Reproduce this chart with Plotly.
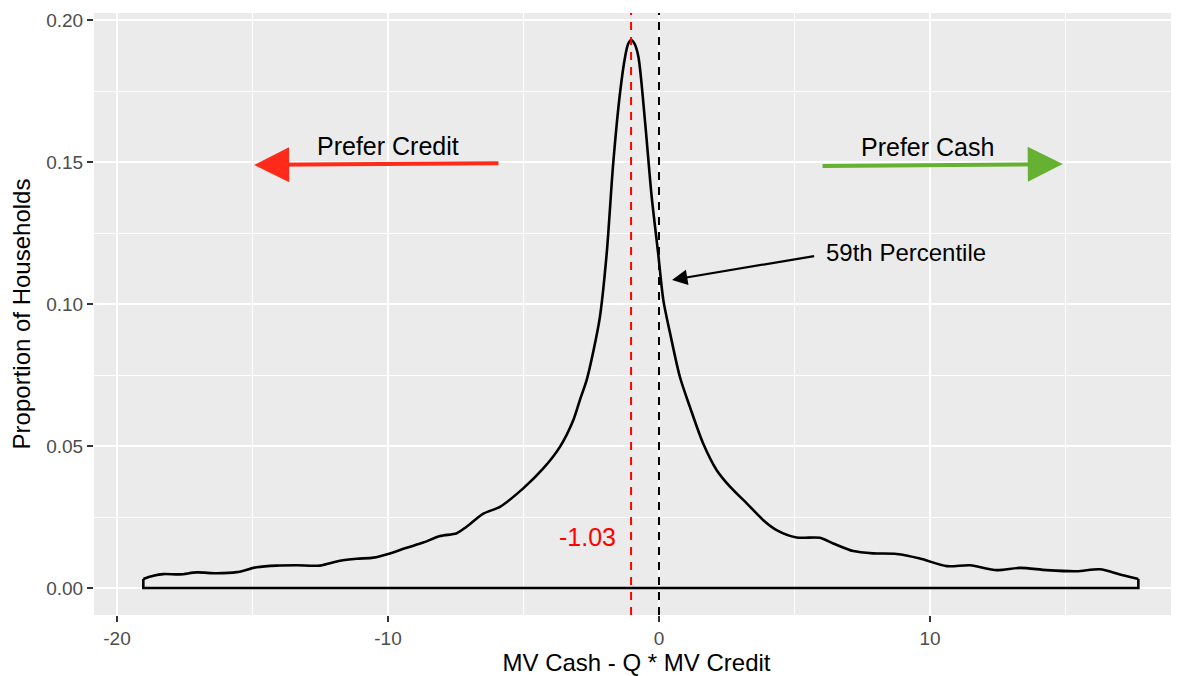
import plotly.graph_objects as go

# density of MV Cash - Q * MV Credit
density_x = [-19.03, -18.66, -18.29, -17.67, -17.06, -16.32, -15.58, -14.85, -14.11, -13.37,
             -12.51, -11.77, -11.15, -10.54, -9.93, -9.31, -8.70, -8.08, -7.46, -7.10,
             -6.48, -5.87, -5.01, -4.27, -3.65, -3.16, -2.92, -2.67, -2.43, -2.18,
             -1.93, -1.69, -1.44, -1.25, -1.14, -1.03, -0.90, -0.76, -0.52, -0.27,
             -0.03, 0.16, 0.41, 0.77, 1.14, 1.63, 2.13, 2.62, 3.24, 3.85,
             4.34, 5.08, 5.94, 6.43, 7.17, 7.91, 8.77, 9.63, 10.62, 11.48,
             12.46, 13.32, 14.31, 15.41, 16.27, 17.01, 17.69]
density_y = [0.0032, 0.0043, 0.0049, 0.0048, 0.0055, 0.0052, 0.0056, 0.0073, 0.0079, 0.0080,
             0.0079, 0.0096, 0.0103, 0.0107, 0.0122, 0.0142, 0.0160, 0.0183, 0.0193, 0.0216,
             0.0262, 0.0286, 0.0351, 0.0421, 0.0498, 0.0592, 0.0662, 0.0732, 0.0830, 0.0955,
             0.1178, 0.1495, 0.1742, 0.1871, 0.1916, 0.1930, 0.1916, 0.1871, 0.1648, 0.1378,
             0.1178, 0.1014, 0.0897, 0.0744, 0.0638, 0.0509, 0.0415, 0.0357, 0.0298, 0.0239,
             0.0204, 0.0178, 0.0177, 0.0157, 0.0130, 0.0122, 0.0120, 0.0104, 0.0077, 0.0080,
             0.0063, 0.0071, 0.0063, 0.0059, 0.0066, 0.0048, 0.0032]

mode_value = -1.03
mode_label = "-1.03"
zero_value = 0

x_tickvals = [-20, -10, 0, 10]
x_ticktext = ["-20", "-10", "0", "10"]
y_tickvals = [0, 0.05, 0.10, 0.15, 0.20]
y_ticktext = ["0.00", "0.05", "0.10", "0.15", "0.20"]

# arrows: (tail x, tail y, tip x, tip y)
credit_arrow = [-5.87, 0.1496, -14.94, 0.1490]
cash_arrow = [5.98, 0.1486, 14.90, 0.1493]
pct_arrow = [5.78, 0.1170, 0.48, 0.1085]

FONT = "Liberation Sans, Arial, Helvetica, sans-serif"

fig = go.Figure()

fig.add_trace(go.Scatter(
    x=density_x, y=density_y, mode="lines",
    line=dict(color="black", width=2.6, shape="spline", smoothing=0.8),
    hoverinfo="skip", showlegend=False))
# polygon edges down to the baseline, like geom_density
fig.add_trace(go.Scatter(
    x=[density_x[0], density_x[0], density_x[-1], density_x[-1]],
    y=[density_y[0], 0, 0, density_y[-1]], mode="lines",
    line=dict(color="black", width=2.6),
    hoverinfo="skip", showlegend=False))

fig.add_vline(x=mode_value, line=dict(color="#FF0000", width=2, dash="8px,7px"))
fig.add_vline(x=zero_value, line=dict(color="black", width=2, dash="8px,7px"))

def arrow(a, color, width, size):
    fig.add_annotation(x=a[2], y=a[3], ax=a[0], ay=a[1], xref="x", yref="y",
                       axref="x", ayref="y", text="", showarrow=True,
                       arrowhead=2, arrowsize=size, arrowwidth=width,
                       arrowcolor=color, standoff=0, startstandoff=0)

arrow(credit_arrow, "#FF2A1A", 4, 1.75)
arrow(cash_arrow, "#66B032", 4, 1.75)
arrow(pct_arrow, "black", 2.2, 1.4)

fig.add_annotation(x=-10, y=0.1556, text="Prefer Credit", showarrow=False,
                   font=dict(size=25, color="black", family=FONT))
fig.add_annotation(x=9.9, y=0.1553, text="Prefer Cash", showarrow=False,
                   font=dict(size=25, color="black", family=FONT))
fig.add_annotation(x=6.1, y=0.118, text="59th Percentile", showarrow=False,
                   xanchor="left", font=dict(size=24, color="black", family=FONT))
fig.add_annotation(x=-2.62, y=0.018, text=mode_label, showarrow=False,
                   font=dict(size=25, color="#FF0000", family=FONT))

# page body has an 8px margin, so the figure is sized to fit the window after it
fig.update_layout(
    width=1171, height=668,
    margin=dict(l=86, r=0, t=5, b=61),
    paper_bgcolor="white", plot_bgcolor="#EBEBEB",
    font=dict(family=FONT, color="black"),
    showlegend=False,
)

fig.update_xaxes(
    range=[-20.85, 19.19], tickvals=x_tickvals, ticktext=x_ticktext,
    showgrid=True, gridcolor="white", gridwidth=2.2, zeroline=False,
    minor=dict(dtick=5, tick0=0, showgrid=True, gridcolor="white", gridwidth=1.1),
    ticks="outside", ticklen=6, tickwidth=2, tickcolor="#333333",
    tickfont=dict(size=19, color="#4D4D4D", family=FONT),
    title=dict(text="MV Cash - Q * MV Credit", font=dict(size=24, color="black", family=FONT), standoff=8),
    showline=False, automargin=False,
)
fig.update_yaxes(
    range=[-0.0095, 0.2025], tickvals=y_tickvals, ticktext=y_ticktext,
    showgrid=True, gridcolor="white", gridwidth=2.2, zeroline=False,
    minor=dict(dtick=0.025, tick0=0, showgrid=True, gridcolor="white", gridwidth=1.1),
    ticks="outside", ticklen=6, tickwidth=2, tickcolor="#333333",
    tickfont=dict(size=19, color="#4D4D4D", family=FONT),
    title=dict(text="Proportion of Households", font=dict(size=24, color="black", family=FONT), standoff=10),
    showline=False, automargin=False,
)

fig.write_html("out.html")
